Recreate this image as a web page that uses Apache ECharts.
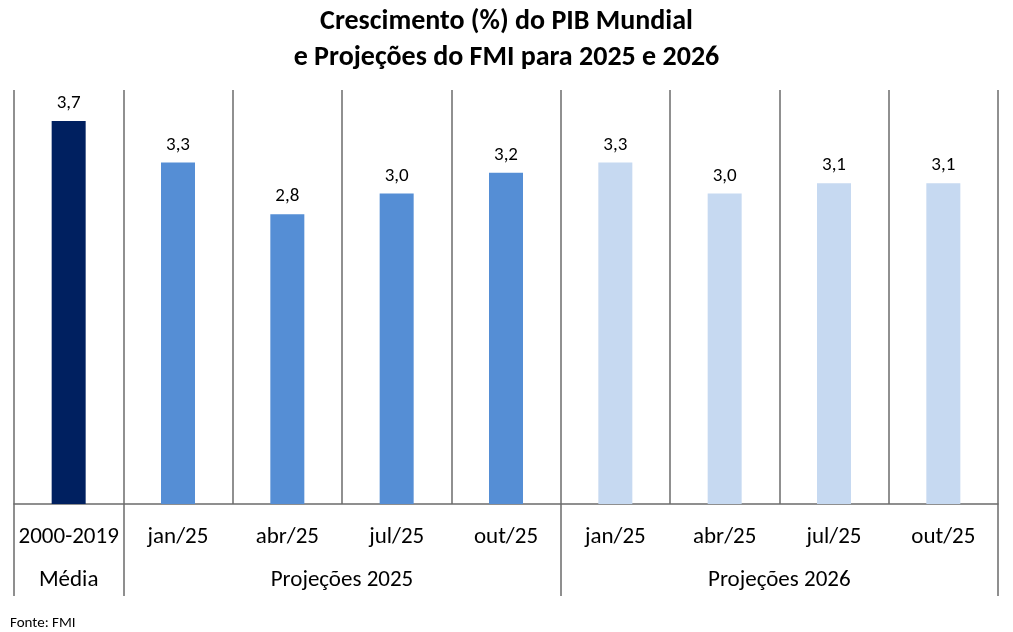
<!DOCTYPE html>
<html>
<head>
<meta charset="utf-8">
<script src="https://cdn.jsdelivr.net/npm/echarts@6/dist/echarts.min.js"></script>
<style>
html,body{margin:0;padding:0;background:#fff;}
#c{width:1013px;height:632px;}
</style>
</head>
<body>
<div id="c"></div>
<script>
const categories = ['2000-2019','jan/25','abr/25','jul/25','out/25','jan/25','abr/25','jul/25','out/25'];
const values = [3.7, 3.3, 2.8, 3.0, 3.2, 3.3, 3.0, 3.1, 3.1];
const barColors = ['#002060','#558ED5','#558ED5','#558ED5','#558ED5','#C6D9F1','#C6D9F1','#C6D9F1','#C6D9F1'];
const groupNames = ['Média','Projeções 2025','Projeções 2026'];
const groupCenters = [0.5, 3, 7];
const groupBounds = [0, 1, 5, 9];

const FONT = 'Carlito, Lato, sans-serif';
const LINE = '#6b6b6b';

const chart = echarts.init(document.getElementById('c'), null, {renderer:'canvas'});
chart.setOption({
  animation:false,
  backgroundColor:'#fff',
  title:[{
    text:'Crescimento (%) do PIB Mundial\ne Projeções do FMI para 2025 e 2026',
    left:'center', top:-1,
    textStyle:{fontFamily:FONT, fontWeight:'bold', fontSize:28, lineHeight:36, color:'#000'}
  },{
    text:'Fonte: FMI', left:5, top:611,
    textStyle:{fontFamily:FONT, fontWeight:'normal', fontSize:15, color:'#000'}
  }],
  grid:{left:14, right:15, top:90, bottom:128, containLabel:false},
  xAxis:[{
    type:'category', data:categories, boundaryGap:true, position:'bottom',
    axisLine:{show:true, lineStyle:{color:LINE, width:1.5}},
    axisTick:{show:false},
    splitLine:{show:true, interval:0, lineStyle:{color:LINE, width:1.5}},
    axisLabel:{interval:0, margin:22, fontFamily:FONT, fontSize:23, color:'#000'}
  },{
    type:'value', min:0, max:9, position:'bottom',
    axisLine:{show:false},
    splitLine:{show:false},
    axisTick:{show:true, customValues:groupBounds, length:92, lineStyle:{color:LINE, width:1.5}},
    axisLabel:{show:true, customValues:groupCenters, margin:65, fontFamily:FONT, fontSize:23, color:'#000',
      formatter:function(v){ const i = groupCenters.indexOf(v); return i>=0 ? groupNames[i] : ''; }}
  }],
  yAxis:{
    type:'value', min:0, max:4, show:true,
    axisLine:{show:false}, axisTick:{show:false}, axisLabel:{show:false}, splitLine:{show:false}
  },
  series:[{
    type:'bar', xAxisIndex:0, barWidth:34,
    data:values.map((v,i)=>({value:v, itemStyle:{color:barColors[i]}})),
    label:{show:true, position:'top', distance:8, fontFamily:FONT, fontSize:19, color:'#000',
      formatter:p=>p.value.toFixed(1).replace('.',',')}
  }]
});
</script>
</body>
</html>
